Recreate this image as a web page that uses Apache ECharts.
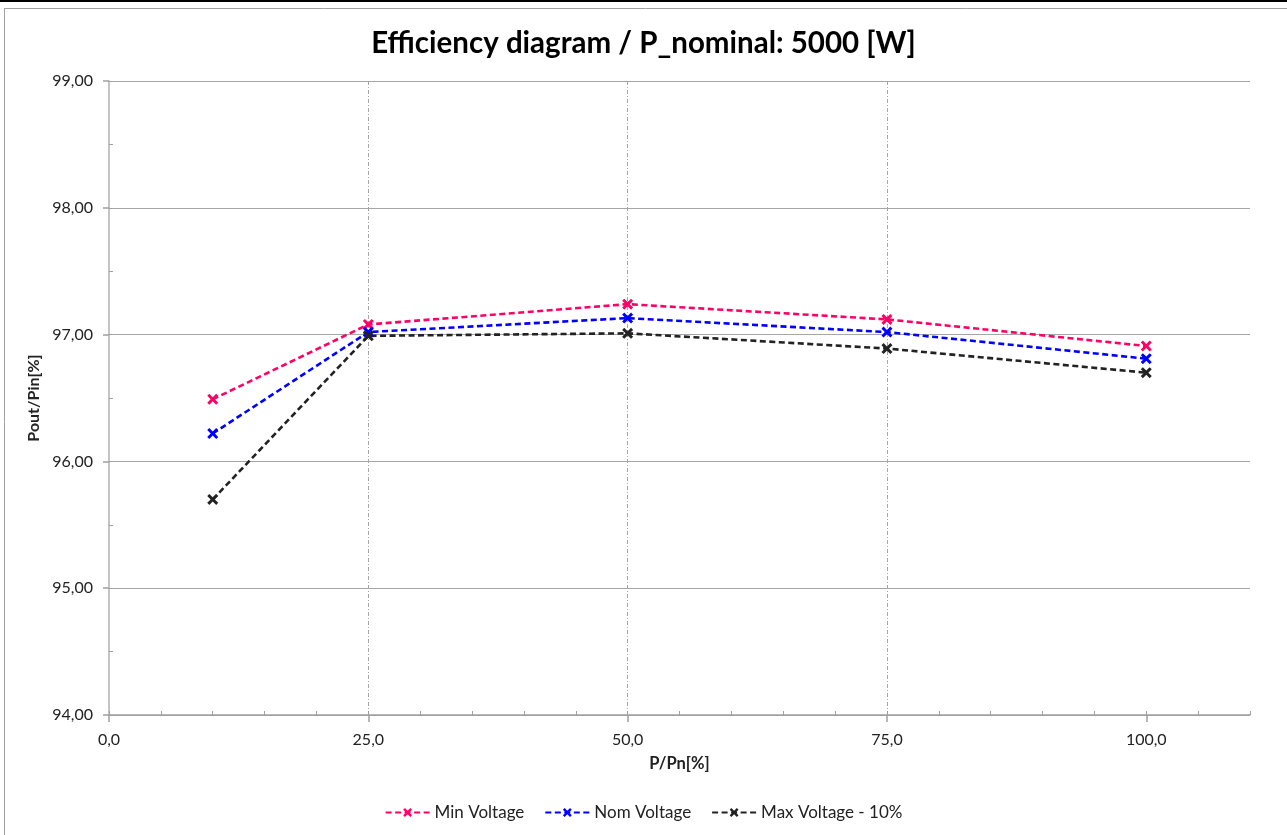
<!DOCTYPE html>
<html>
<head>
<meta charset="utf-8">
<script src="https://cdn.jsdelivr.net/npm/echarts@6/dist/echarts.min.js"></script>
<style>
html,body{margin:0;padding:0;background:#fff;}
#c{width:1287px;height:835px;}
</style>
</head>
<body>
<div id="c"></div>
<script>
var loadPercent = [10, 25, 50, 75, 100];
var minVoltage = [96.49, 97.08, 97.24, 97.12, 96.91];
var nomVoltage = [96.22, 97.02, 97.13, 97.02, 96.81];
var maxVoltage = [95.70, 96.99, 97.01, 96.89, 96.70];
var xTicks = [0, 25, 50, 75, 100];
var seriesNames = ['Min Voltage', 'Nom Voltage', 'Max Voltage - 10%'];

function pairs(vals){ return loadPercent.map(function(x,i){ return [x, vals[i]]; }); }
var FONT = 'Lato';
var X_SYM = 'path://M0,1.9L1.9,0L5,3.1L8.1,0L10,1.9L6.9,5L10,8.1L8.1,10L5,6.9L1.9,10L0,8.1L3.1,5Z';

function mkSeries(name, vals, color){
  return {
    name: name, type: 'line', data: pairs(vals),
    symbol: X_SYM, symbolSize: 11,
    itemStyle: {color: color},
    lineStyle: {color: color, width: 2.6, type: [6, 3.5]},
    xAxisIndex: 0, yAxisIndex: 0
  };
}

var chart = echarts.init(document.getElementById('c'));
chart.setOption({
  backgroundColor: '#fff',
  animation: false,
  textStyle: {fontFamily: FONT},
  title: {
    text: 'Efficiency diagram / P_nominal: 5000 [W]',
    left: 'center', top: 23,
    textStyle: {fontFamily: FONT, fontWeight: 'bold', fontSize: 29.5, color: '#000'}
  },
  legend: {
    bottom: 9, left: 'center',
    itemWidth: 44, itemHeight: 11, itemGap: 20,
    textStyle: {fontFamily: FONT, fontSize: 17, color: '#222'},
    data: seriesNames
  },
  grid: {left: 109, right: 37, top: 81, bottom: 120},
  xAxis: [{
    type: 'value', min: 0, max: 110, interval: 25,
    name: 'P/Pn[%]', nameLocation: 'middle', nameGap: 40,
    nameTextStyle: {fontFamily: FONT, fontWeight: 'bold', fontSize: 16.5, color: '#222'},
    axisLine: {show: true, lineStyle: {color: '#a0a0a0', width: 1.5}},
    axisTick: {show: true, length: 7, inside: false, customValues: xTicks, lineStyle: {color: '#a0a0a0', width: 1.5}},
    axisLabel: {margin: 17, fontSize: 16, color: '#222', fontFamily: FONT, customValues: xTicks,
      formatter: function(v){ return v.toFixed(1).replace('.', ','); }},
    splitLine: {show: true, showMinLine: false, showMaxLine: false,
      lineStyle: {color: '#a6a6a6', width: 1, type: [4, 2, 1, 2]}}
  }, {
    type: 'value', min: 0, max: 110, interval: 5, position: 'bottom', gridIndex: 0,
    axisLine: {show: false},
    axisTick: {show: true, inside: true, length: 4, lineStyle: {color: '#a0a0a0', width: 1}},
    axisLabel: {show: false}, splitLine: {show: false}
  }],
  yAxis: [{
    type: 'value', min: 94, max: 99, interval: 1,
    name: 'Pout/Pin[%]', nameLocation: 'middle', nameGap: 63,
    nameTextStyle: {fontFamily: FONT, fontWeight: 'bold', fontSize: 16, color: '#222'},
    axisLine: {show: true, lineStyle: {color: '#b0b0b0', width: 1.5}},
    axisTick: {show: true, length: 6, inside: false, lineStyle: {color: '#a0a0a0', width: 1.5}},
    axisLabel: {margin: 16, fontSize: 16, color: '#222', fontFamily: FONT,
      formatter: function(v){ return v.toFixed(2).replace('.', ','); }},
    splitLine: {show: true, lineStyle: {color: '#a6a6a6', width: 1.2, type: 'solid'}}
  }, {
    type: 'value', min: 94, max: 99, interval: 0.5, position: 'left', gridIndex: 0,
    axisLine: {show: false},
    axisTick: {show: true, inside: true, length: 4, lineStyle: {color: '#a0a0a0', width: 1}},
    axisLabel: {show: false}, splitLine: {show: false}
  }],
  graphic: [
    {type: 'line', shape: {x1: 0, y1: 1, x2: 1287, y2: 1}, style: {stroke: '#000', lineWidth: 2}},
    {type: 'line', shape: {x1: 4, y1: 8.5, x2: 1287, y2: 8.5}, style: {stroke: '#a0a0a0', lineWidth: 1}},
    {type: 'line', shape: {x1: 4.5, y1: 8, x2: 4.5, y2: 835}, style: {stroke: '#a0a0a0', lineWidth: 1}}
  ],
  series: [
    mkSeries(seriesNames[0], minVoltage, '#ff0066'),
    mkSeries(seriesNames[1], nomVoltage, '#0000ff'),
    mkSeries(seriesNames[2], maxVoltage, '#222222')
  ]
});
</script>
</body>
</html>
